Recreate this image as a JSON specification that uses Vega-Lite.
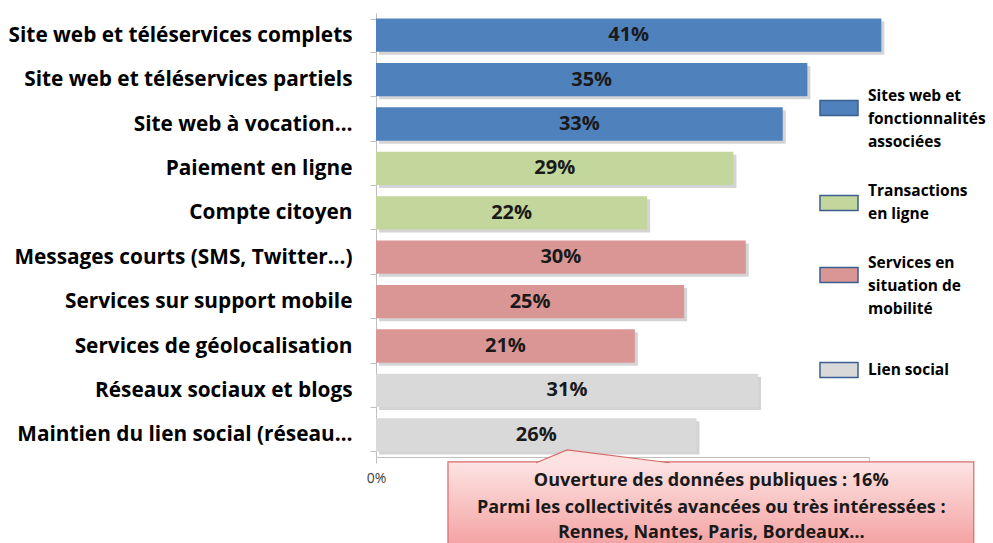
{
  "$schema": "https://vega.github.io/schema/vega-lite/v6.json",
  "width": 493,
  "height": 444,
  "padding": {"left": 8, "top": 2, "right": 0, "bottom": 0},
  "autosize": {"type": "pad"},
  "config": {"view": {"stroke": null}, "font": "Open Sans", "background": "white"},
  "datasets": {
    "bars": [
      {"cat": "Site web et téléservices complets", "value": 0.41, "group": "Sites web et fonctionnalités associées"},
      {"cat": "Site web et téléservices partiels", "value": 0.35, "group": "Sites web et fonctionnalités associées"},
      {"cat": "Site web à vocation…", "value": 0.33, "group": "Sites web et fonctionnalités associées"},
      {"cat": "Paiement en ligne", "value": 0.29, "group": "Transactions en ligne"},
      {"cat": "Compte citoyen", "value": 0.22, "group": "Transactions en ligne"},
      {"cat": "Messages courts (SMS, Twitter...)", "value": 0.30, "group": "Services en situation de mobilité"},
      {"cat": "Services sur support mobile", "value": 0.25, "group": "Services en situation de mobilité"},
      {"cat": "Services de géolocalisation", "value": 0.21, "group": "Services en situation de mobilité"},
      {"cat": "Réseaux sociaux et blogs", "value": 0.31, "group": "Lien social"},
      {"cat": "Maintien du lien social (réseau…", "value": 0.26, "group": "Lien social"}
    ],
    "box": [{"x1": 0.0584, "x2": 0.485, "y1": 10.11, "y2": 11.95}],
    "pointer": [
      {"px": 0.130, "py": 10.13, "pb": 10.15},
      {"px": 0.155, "py": 9.84, "pb": 10.15},
      {"px": 0.238, "py": 10.13, "pb": 10.15}
    ],
    "note": [
      {"line": "Ouverture des données publiques : 16%", "nx": 0.272, "ny": 10.55},
      {"line": "Parmi les collectivités avancées ou très intéressées :", "nx": 0.272, "ny": 11.15},
      {"line": "Rennes, Nantes, Paris, Bordeaux…", "nx": 0.272, "ny": 11.72}
    ]
  },
  "layer": [
    {
      "data": {"name": "bars"},
      "encoding": {
        "y": {
          "field": "cat", "type": "nominal", "sort": null,
          "scale": {"paddingInner": 0.25, "paddingOuter": 0.125},
          "axis": {
            "title": null, "tickBand": "extent", "labelFontSize": 20.8, "labelFontWeight": "bold",
            "labelColor": "#000000", "labelFont": "Open Sans", "domainColor": "#bfbfbf", "tickColor": "#bfbfbf",
            "tickSize": 6, "labelPadding": 18, "labelLimit": 400
          }
        }
      },
      "layer": [
        {
          "mark": {"type": "bar", "color": "#b8b8b8", "opacity": 0.6, "xOffset": 3, "yOffset": 3},
          "encoding": {"x": {"field": "value", "type": "quantitative"}}
        },
        {
          "mark": {"type": "bar"},
          "encoding": {
            "x": {
              "field": "value", "type": "quantitative",
              "scale": {"domain": [0, 0.4], "nice": false},
              "axis": {
                "title": null, "values": [0, 0.2, 0.4], "format": ".0%", "grid": false,
                "labelExpr": "datum.value == 0 ? datum.label : ''", "labelFlush": false,
                "labelFontSize": 14, "labelColor": "#404040", "labelFont": "Open Sans",
                "domainColor": "#bfbfbf", "tickColor": "#bfbfbf", "tickSize": 6, "labelPadding": 8
              }
            },
            "color": {
              "field": "group", "type": "nominal",
              "scale": {
                "domain": ["Sites web et fonctionnalités associées", "Transactions en ligne", "Services en situation de mobilité", "Lien social"],
                "range": ["#4f81bd", "#c3d69b", "#d99694", "#d9d9d9"]
              },
              "legend": {
                "title": null, "orient": "none", "legendX": 443, "legendY": 75,
                "symbolType": "M-1,-0.4H1V0.4H-1Z", "symbolSize": 1444,
                "symbolStrokeColor": "#3b5f8f", "symbolStrokeWidth": 1.5,
                "labelFont": "Open Sans", "labelFontSize": 15.5, "labelFontWeight": "bold", "labelColor": "#000000",
                "labelOffset": 9, "rowPadding": 32, "labelLimit": 200,
                "labelExpr": "datum.label == 'Sites web et fonctionnalités associées' ? ['Sites web et', 'fonctionnalités', 'associées'] : datum.label == 'Transactions en ligne' ? ['Transactions', 'en ligne'] : datum.label == 'Services en situation de mobilité' ? ['Services en', 'situation de', 'mobilité'] : datum.label",
                "encode": {
                  "symbols": {"update": {
                    "stroke": {"value": "#3b5f8f"}, "strokeWidth": {"value": 1.5}, "fillOpacity": {"value": 1},
                    "fill": {"signal": "datum.label == 'Sites web et fonctionnalités associées' ? {gradient: 'linear', x1: 0, y1: 0, x2: 0, y2: 1, stops: [{offset: 0, color: '#3a6db0'}, {offset: 0.5, color: '#4f86cf'}, {offset: 1, color: '#6c9fe0'}]} : datum.label == 'Transactions en ligne' ? {gradient: 'linear', x1: 0, y1: 0, x2: 0, y2: 1, stops: [{offset: 0, color: '#bcd08f'}, {offset: 1, color: '#d4e3b4'}]} : datum.label == 'Services en situation de mobilité' ? {gradient: 'linear', x1: 0, y1: 0, x2: 0, y2: 1, stops: [{offset: 0, color: '#c96b69'}, {offset: 1, color: '#edb5b4'}]} : {gradient: 'linear', x1: 0, y1: 0, x2: 0, y2: 1, stops: [{offset: 0, color: '#c4c4c4'}, {offset: 1, color: '#f0f0f0'}]}"}
                  }},
                  "labels": {"update": {"lineHeight": {"value": 23}, "dy": {"signal": "datum.label == 'Lien social' ? 0 : -12"}}}
                }
              }
            }
          }
        },
        {
          "transform": [{"calculate": "datum.value / 2", "as": "mid"}],
          "mark": {"type": "text", "font": "Open Sans", "fontSize": 20, "fontWeight": "bold", "color": "#1a1a1a", "align": "center"},
          "encoding": {
            "x": {"field": "mid", "type": "quantitative"},
            "text": {"field": "value", "type": "quantitative", "format": ".0%"}
          }
        }
      ]
    },
    {
      "layer": [
        {
          "data": {"name": "box"},
          "mark": {
            "type": "rect", "stroke": "#d66a6a", "strokeWidth": 1.2,
            "fill": {"gradient": "linear", "x1": 0, "y1": 0, "x2": 0, "y2": 1,
              "stops": [{"offset": 0, "color": "#fde4e4"}, {"offset": 1, "color": "#f4a3a3"}]}
          },
          "encoding": {
            "x": {"field": "x1", "type": "quantitative"},
            "x2": {"field": "x2"},
            "y": {"field": "y1", "type": "quantitative", "scale": {"domain": [0, 10], "reverse": true, "nice": false, "zero": false}, "axis": null},
            "y2": {"field": "y2"}
          }
        },
        {
          "data": {"name": "pointer"},
          "mark": {"type": "area", "color": "#fde2e2", "opacity": 1},
          "encoding": {
            "x": {"field": "px", "type": "quantitative"},
            "y": {"field": "py", "type": "quantitative", "scale": {"domain": [0, 10], "reverse": true, "nice": false, "zero": false}, "axis": null},
            "y2": {"field": "pb"}
          }
        },
        {
          "data": {"name": "pointer"},
          "mark": {"type": "line", "color": "#d66a6a", "strokeWidth": 1.2},
          "encoding": {
            "x": {"field": "px", "type": "quantitative"},
            "y": {"field": "py", "type": "quantitative", "scale": {"domain": [0, 10], "reverse": true, "nice": false, "zero": false}, "axis": null}
          }
        },
        {
          "data": {"name": "note"},
          "mark": {"type": "text", "font": "Open Sans", "fontSize": 18, "fontWeight": "bold", "color": "#1a1a1a", "align": "center", "baseline": "middle"},
          "encoding": {
            "x": {"field": "nx", "type": "quantitative"},
            "y": {"field": "ny", "type": "quantitative", "scale": {"domain": [0, 10], "reverse": true, "nice": false, "zero": false}, "axis": null},
            "text": {"field": "line"}
          }
        }
      ]
    }
  ],
  "resolve": {"scale": {"y": "independent"}, "axis": {"y": "independent"}}
}
